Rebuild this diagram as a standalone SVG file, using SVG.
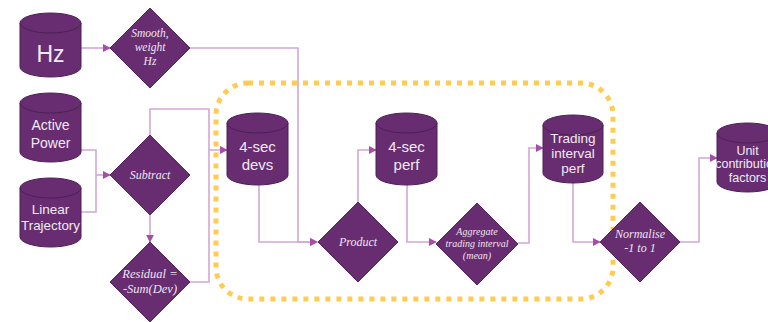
<svg xmlns="http://www.w3.org/2000/svg" width="768" height="322" viewBox="0 0 768 322">
<defs>
<style>
.cyl{fill:#672D70;stroke:#4E1F57;stroke-width:1}
.rim{fill:none;stroke:#4E1F57;stroke-width:1}
.dia{fill:#672D70;stroke:#5A2563;stroke-width:1}
.ct{font-family:"Liberation Sans",Arial,sans-serif;fill:#F2EAF3;text-anchor:middle}
.dt{font-family:"Liberation Serif","Times New Roman",serif;font-style:italic;fill:#EFE4F0;text-anchor:middle}
.con{fill:none;stroke:#D2A8D4;stroke-width:1.6}
.arr{marker-end:url(#ah)}
</style>
<marker id="ah" viewBox="0 0 10 10" refX="9" refY="5" markerWidth="8" markerHeight="8" markerUnits="userSpaceOnUse" orient="auto">
<path d="M0,0 L10,5 L0,10 z" fill="#A54DA8"/>
</marker>
</defs>
<rect width="768" height="322" fill="#FFFFFF"/>

<rect id="boundary" x="216" y="83" width="397" height="216" rx="32" ry="32" fill="none" stroke="#FFCB52" stroke-width="5" stroke-dasharray="5 6"/>

<g id="connectors">
<path class="con arr" d="M81,48 H110"/>
<path class="con arr" d="M190,48 H298 V242 H317"/>
<path class="con" d="M81,150 H96 V212 H81"/>
<path class="con arr" d="M96,175 H110"/>
<path class="con arr" d="M150,135 V109 H209 V150 H227"/>
<path class="con" d="M190,282 H209 V150"/>
<path class="con arr" d="M150,215 V242"/>
<path class="con arr" d="M259,185 V242 H317"/>
<path class="con arr" d="M358,202 V150 H376"/>
<path class="con arr" d="M407,185 V242 H436"/>
<path class="con arr" d="M518,243 H529 V148 H543"/>
<path class="con arr" d="M573,183 V242 H600"/>
<path class="con arr" d="M680,242 H699 V158 H717"/>
</g>

<g id="hz">
<path class="cyl" d="M20,23 A30.5,10 0 0 1 81,23 V67 A30.5,10 0 0 1 20,67 Z"/>
<path class="rim" d="M20,23 A30.5,10 0 0 0 81,23"/>
<text class="ct" x="50.5" y="62" font-size="23">Hz</text>
</g>

<g id="smooth">
<path class="dia" d="M150,8 L190,48 L150,88 L110,48 Z"/>
<text class="dt" x="150" y="37" font-size="11.5">Smooth,</text>
<text class="dt" x="150" y="51" font-size="11.5">weight</text>
<text class="dt" x="150" y="65" font-size="11.5">Hz</text>
</g>

<g id="active-power">
<path class="cyl" d="M20,103 A30.5,10 0 0 1 81,103 V152 A30.5,10 0 0 1 20,152 Z"/>
<path class="rim" d="M20,103 A30.5,10 0 0 0 81,103"/>
<text class="ct" x="50.5" y="130" font-size="14">Active</text>
<text class="ct" x="50.5" y="148" font-size="14">Power</text>
</g>

<g id="linear-trajectory">
<path class="cyl" d="M20,188 A30.5,10 0 0 1 81,188 V237 A30.5,10 0 0 1 20,237 Z"/>
<path class="rim" d="M20,188 A30.5,10 0 0 0 81,188"/>
<text class="ct" x="50.5" y="214" font-size="13.5">Linear</text>
<text class="ct" x="50.5" y="230" font-size="13.5" textLength="59" lengthAdjust="spacingAndGlyphs">Trajectory</text>
</g>

<g id="subtract">
<path class="dia" d="M150,135 L190,175 L150,215 L110,175 Z"/>
<text class="dt" x="150" y="179" font-size="12">Subtract</text>
</g>

<g id="residual">
<path class="dia" d="M150,242 L190,282 L150,322 L110,282 Z"/>
<text class="dt" x="150" y="278" font-size="12.5">Residual =</text>
<text class="dt" x="150" y="293" font-size="12.5">-Sum(Dev)</text>
</g>

<g id="devs">
<path class="cyl" d="M227,123 A30.5,10 0 0 1 288,123 V175 A30.5,10 0 0 1 227,175 Z"/>
<path class="rim" d="M227,123 A30.5,10 0 0 0 288,123"/>
<text class="ct" x="257.5" y="152" font-size="15">4-sec</text>
<text class="ct" x="257.5" y="170" font-size="15">devs</text>
</g>

<g id="product">
<path class="dia" d="M358,202 L398,242 L358,282 L318,242 Z"/>
<text class="dt" x="358" y="246" font-size="12">Product</text>
</g>

<g id="perf">
<path class="cyl" d="M376,123 A30.5,10 0 0 1 437,123 V175 A30.5,10 0 0 1 376,175 Z"/>
<path class="rim" d="M376,123 A30.5,10 0 0 0 437,123"/>
<text class="ct" x="406.5" y="152" font-size="15">4-sec</text>
<text class="ct" x="406.5" y="170" font-size="15">perf</text>
</g>

<g id="aggregate">
<path class="dia" d="M477,203 L518,244 L477,285 L436,244 Z"/>
<text class="dt" x="477" y="235" font-size="10">Aggregate</text>
<text class="dt" x="477" y="247" font-size="10">trading interval</text>
<text class="dt" x="477" y="259" font-size="10">(mean)</text>
</g>

<g id="trading-perf">
<path class="cyl" d="M543,125 A30,10 0 0 1 603,125 V173 A30,10 0 0 1 543,173 Z"/>
<path class="rim" d="M543,125 A30,10 0 0 0 603,125"/>
<text class="ct" x="573" y="143" font-size="13.5">Trading</text>
<text class="ct" x="573" y="158" font-size="13.5">interval</text>
<text class="ct" x="573" y="173" font-size="13.5">perf</text>
</g>

<g id="normalise">
<path class="dia" d="M640,202 L680,242 L640,282 L600,242 Z"/>
<text class="dt" x="640" y="238" font-size="12">Normalise</text>
<text class="dt" x="640" y="252" font-size="12">-1 to 1</text>
</g>

<g id="unit">
<path class="cyl" d="M717,133 A30.5,10 0 0 1 778,133 V182 A30.5,10 0 0 1 717,182 Z"/>
<path class="rim" d="M717,133 A30.5,10 0 0 0 778,133"/>
<text class="ct" x="747.5" y="155" font-size="12.5">Unit</text>
<text class="ct" x="747.5" y="168" font-size="12.5">contribution</text>
<text class="ct" x="747.5" y="182" font-size="12.5">factors</text>
</g>
</svg>
